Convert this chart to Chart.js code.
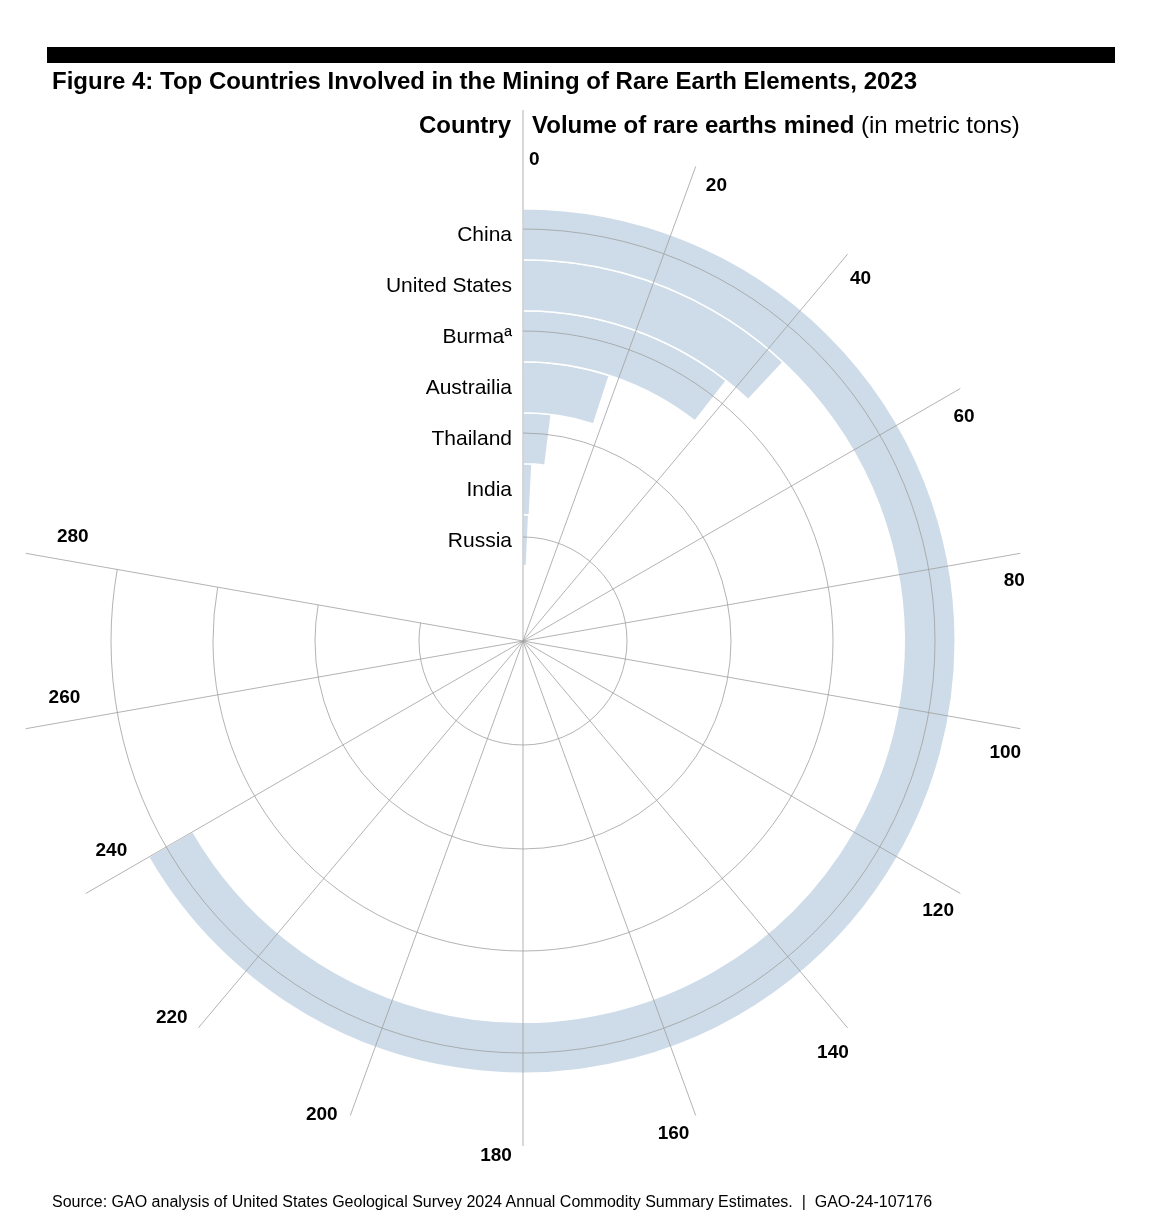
<!DOCTYPE html>
<html><head><meta charset="utf-8">
<script src="https://cdn.jsdelivr.net/npm/chart.js@4"></script>
<style>
body{margin:0;background:#fff;font-family:"Liberation Sans",Arial,sans-serif;}
#wrap{position:relative;width:1168px;height:1231px;}
canvas{position:absolute;left:0;top:0;}
.bar{position:absolute;left:47px;top:47px;width:1068px;height:16px;background:#000;}
.title{position:absolute;left:52px;top:67px;font-size:24px;font-weight:bold;}
.hc{position:absolute;right:657px;top:111px;font-size:24px;font-weight:bold;}
.hv{position:absolute;left:532px;top:111px;font-size:24px;}
.src{position:absolute;left:52px;top:1193px;font-size:16px;}
</style></head><body>
<div id="wrap">
<canvas id="c" width="1168" height="1231"></canvas>
<div class="bar"></div>
<div class="title">Figure 4: Top Countries Involved in the Mining of Rare Earth Elements, 2023</div>
<div class="hc">Country</div>
<div class="hv"><b>Volume of rare earths mined</b> (in metric tons)</div>
<div class="src">Source: GAO analysis of United States Geological Survey 2024 Annual Commodity Summary Estimates. &nbsp;|&nbsp; GAO-24-107176</div>
</div>
<script>
// values in thousand metric tons; full circle = 360
const countries = ["China", "United States", "Burmaª", "Austrailia", "Thailand", "India", "Russia"];
const volumes = [240, 43, 38, 18, 7.1, 2.9, 2.6];
const ticks = [20, 40, 60, 80, 100, 120, 140, 160, 180, 200, 220, 240, 260, 280];
const rings = [104, 208, 310, 412];
const FULL = 360;

const BAND = "#cddce8";
const GRID = "#a0a0a0";

const gridPlugin = {
  id: "grid",
  afterDatasetsDraw(chart) {
    const ctx = chart.ctx;
    const meta0 = chart.getDatasetMeta(0).data[0];
    const cx = meta0.x, cy = meta0.y;
    const rad = (v) => (v / FULL) * Math.PI * 2 - Math.PI / 2;
    ctx.save();
    ctx.strokeStyle = GRID;
    ctx.lineWidth = 0.8;
    rings.forEach((r) => {
      ctx.beginPath();
      ctx.arc(cx, cy, r, rad(0), rad(280));
      ctx.stroke();
    });
    ticks.forEach((t) => {
      const a = rad(t);
      ctx.beginPath();
      ctx.moveTo(cx, cy);
      ctx.lineTo(cx + 505 * Math.cos(a), cy + 505 * Math.sin(a));
      ctx.stroke();
    });
    ctx.beginPath();
    ctx.moveTo(cx, cy);
    ctx.lineTo(cx, 110);
    ctx.stroke();
    ctx.fillStyle = "#000";
    ctx.font = "bold 19px 'Liberation Sans', Arial";
    ctx.textAlign = "center";
    ctx.textBaseline = "middle";
    ticks.forEach((t) => {
      const a = rad(t + 3);
      const r = t >= 140 && t <= 220 ? 515 : t > 220 ? 462 : 495;
      ctx.fillText(String(t), cx + r * Math.cos(a), cy + r * Math.sin(a));
    });
    ctx.textAlign = "left";
    ctx.fillText("0", cx + 6, 160);
    ctx.font = "21px 'Liberation Sans', Arial";
    ctx.textAlign = "right";
    chart.data.datasets.forEach((ds, i) => {
      const arc = chart.getDatasetMeta(i).data[0];
      const r = (arc.outerRadius + arc.innerRadius) / 2;
      ctx.fillText(ds.label, cx - 11, cy - r + 1);
    });
    ctx.restore();
  },
};

new Chart(document.getElementById("c"), {
  type: "doughnut",
  data: {
    labels: ["value", "rest"],
    datasets: countries.map((name, i) => ({
      label: name,
      data: [volumes[i], FULL - volumes[i]],
      backgroundColor: [BAND, "rgba(0,0,0,0)"],
      borderColor: ["#fff", "rgba(0,0,0,0)"],
      borderWidth: [1.5, 0],
    })),
  },
  options: {
    responsive: false,
    animation: false,
    cutout: "17.4%",
    rotation: 0,
    circumference: 360,
    layout: { padding: { left: 88, right: 210, top: 208, bottom: 157 } },
    plugins: { legend: { display: false }, tooltip: { enabled: false } },
  },
  plugins: [gridPlugin],
});
</script>
</body></html>
